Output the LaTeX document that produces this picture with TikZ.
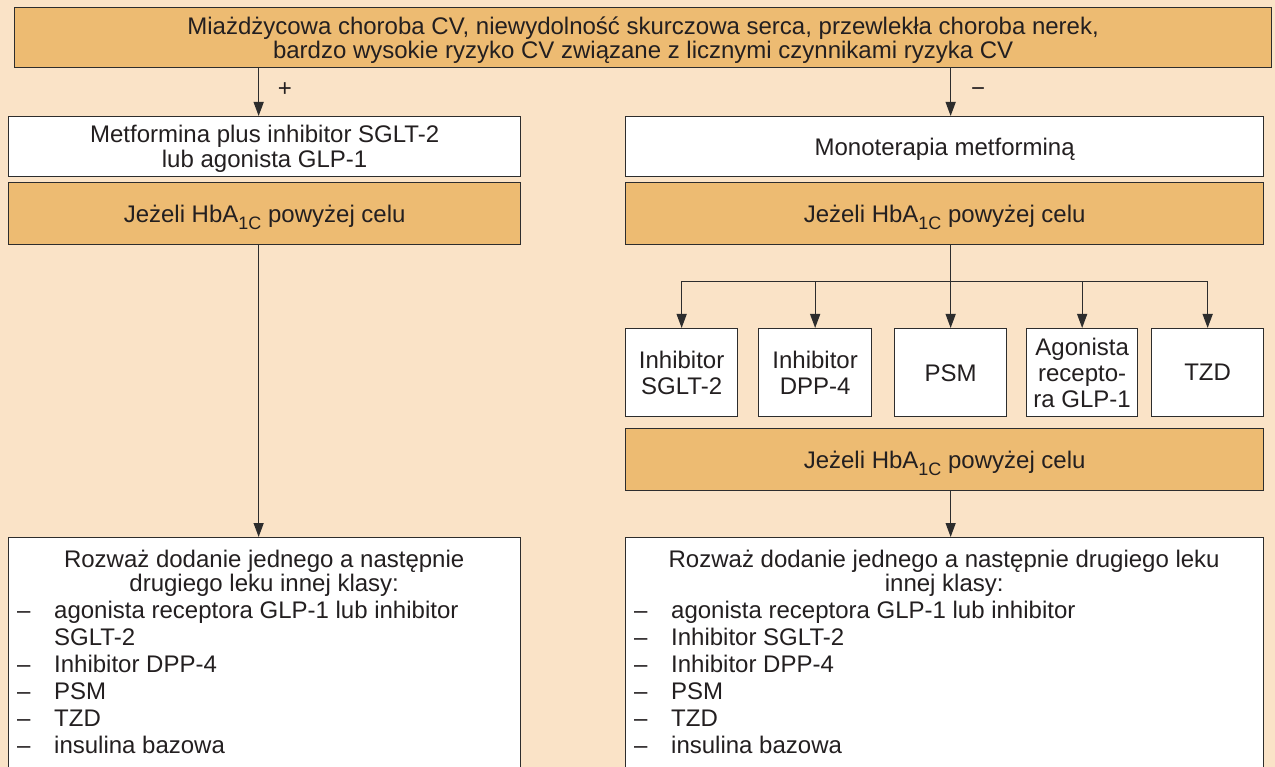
\documentclass[tikz,border=0pt]{standalone}
\usepackage{fontspec}
\setmainfont{Liberation Sans}
\usetikzlibrary{arrows.meta}
\definecolor{bgpeach}{RGB}{250,227,199}
\definecolor{boxorange}{RGB}{237,187,114}
\definecolor{edgegray}{RGB}{45,45,45}
\definecolor{inkgray}{RGB}{35,31,32}
% lowered, smaller index for HbA1C
\newcommand\hbsub[1]{\raisebox{-7pt}{\fontsize{18}{18}\selectfont #1}}
% list bullet: an en dash set in a little from the frame
\newcommand\itemdash{\hspace*{9pt}–}

\begin{document}
\begin{tikzpicture}[x=1pt,y=-1pt,
  every node/.style={text=inkgray},
  txt/.style={font=\fontsize{24}{#1}\selectfont},
  txt/.default=25,
  panel/.style={draw=edgegray, line width=1.3pt, inner sep=0pt,
    anchor=north west, align=center, text depth=0pt, txt},
  orangepanel/.style={panel, fill=boxorange},
  whitepanel/.style={panel, fill=white},
  smallbox/.style={whitepanel, minimum height=88, txt=26},
  wire/.style={draw=edgegray, line width=1.3pt},
  flow/.style={wire, -{Triangle[length=14pt,width=10pt]}},
]
% page and background
\path[use as bounding box, fill=bgpeach] (0,0) rectangle (1275,767);
\clip (0,0) rectangle (1275,767);

% top condition
\node[orangepanel, minimum width=1257, minimum height=60, txt=24] (risk) at (14,7)
  {Miażdżycowa choroba CV, niewydolność skurczowa serca, przewlekła choroba nerek,\\
   bardzo wysokie ryzyko CV związane z licznymi czynnikami ryzyka CV};

% left branch
\node[whitepanel, minimum width=512, minimum height=60] (combo) at (8,116)
  {Metformina plus inhibitor SGLT-2\\lub agonista GLP-1};
\node[orangepanel, minimum width=512, minimum height=62] (lcheck) at (8,182)
  {Jeżeli HbA\hbsub{1C} powyżej celu};
\node[whitepanel, minimum width=512, minimum height=260] (lnext) at (8,537) {};
\node[anchor=base west, inner sep=0pt, txt=27] (lnexttext)
  at ([xshift=0pt,yshift=-30pt]lnext.north west)
  {\begin{tabular}[t]{@{}p{46pt}@{}p{466pt}@{}}
   \multicolumn{2}{@{}c@{}}{Rozważ dodanie jednego a następnie}\\[-3pt]
   \multicolumn{2}{@{}c@{}}{drugiego leku innej klasy:}\\
   \itemdash & agonista receptora GLP-1 lub inhibitor\\
     & SGLT-2\\
   \itemdash & Inhibitor DPP-4\\
   \itemdash & PSM\\
   \itemdash & TZD\\
   \itemdash & insulina bazowa
   \end{tabular}};

% right branch
\node[whitepanel, minimum width=638, minimum height=60] (mono) at (625,116)
  {Monoterapia metforminą};
\node[orangepanel, minimum width=638, minimum height=62] (rcheck) at (625,182)
  {Jeżeli HbA\hbsub{1C} powyżej celu};
\node[smallbox, minimum width=112] (sglt) at (625,328) {Inhibitor\\SGLT-2};
\node[smallbox, minimum width=113] (dpp) at (758,328) {Inhibitor\\DPP-4};
\node[smallbox, minimum width=112] (psm) at (894,328) {PSM};
\node[smallbox, minimum width=111] (glp) at (1026,328) {Agonista\\recepto-\\ra GLP-1};
\node[smallbox, minimum width=112] (tzd) at (1151,328) {TZD};
\node[orangepanel, minimum width=638, minimum height=62] (rcheck2) at (625,428)
  {Jeżeli HbA\hbsub{1C} powyżej celu};
\node[whitepanel, minimum width=638, minimum height=260] (rnext) at (625,537) {};
\node[anchor=base west, inner sep=0pt, txt=27] (rnexttext)
  at ([xshift=0pt,yshift=-30pt]rnext.north west)
  {\begin{tabular}[t]{@{}p{46pt}@{}p{592pt}@{}}
   \multicolumn{2}{@{}c@{}}{Rozważ dodanie jednego a następnie drugiego leku}\\[-3pt]
   \multicolumn{2}{@{}c@{}}{innej klasy:}\\
   \itemdash & agonista receptora GLP-1 lub inhibitor\\
   \itemdash & Inhibitor SGLT-2\\
   \itemdash & Inhibitor DPP-4\\
   \itemdash & PSM\\
   \itemdash & TZD\\
   \itemdash & insulina bazowa
   \end{tabular}};

% connectors
\draw[flow] ([xshift=-6pt]combo.north |- risk.south) -- ([xshift=-6pt]combo.north);
\draw[flow] ([xshift=6pt]mono.north |- risk.south) -- ([xshift=6pt]mono.north);
\node[anchor=base, txt] (yes) at (285,97) {+};
\node[anchor=base, txt] (no) at (978,97) {−};

\draw[flow] ([xshift=-6pt]lcheck.south) -- ([xshift=-6pt]lnext.north);

\draw[flow] (rcheck.south -| psm.north) -- (psm.north);
\path (rcheck.south -| psm.north) ++(0,36) coordinate (fork);
\draw[wire] (sglt.north |- fork) -- (tzd.north |- fork);
\foreach \b in {sglt,dpp,glp,tzd}
  \draw[flow] (\b.north |- fork) -- (\b.north);

\draw[flow] ([xshift=6pt]rcheck2.south) -- ([xshift=6pt]rnext.north);
\end{tikzpicture}
\end{document}
